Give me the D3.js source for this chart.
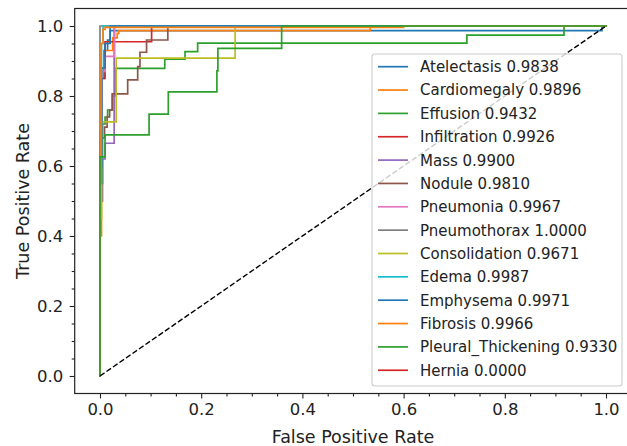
<!DOCTYPE html>
<html>
<head>
<meta charset="utf-8">
<script src="https://cdn.jsdelivr.net/npm/d3@7"></script>
<style>
  html, body { margin: 0; padding: 0; background: #fff; }
  svg { display: block; font-family: "DejaVu Sans", sans-serif; }
</style>
</head>
<body>
<svg id="chart" width="627" height="446"></svg>
<script>
// ---- DATA ----
const classNames = ["Atelectasis", "Cardiomegaly", "Effusion", "Infiltration", "Mass", "Nodule",
  "Pneumonia", "Pneumothorax", "Consolidation", "Edema", "Emphysema", "Fibrosis",
  "Pleural_Thickening", "Hernia"];
const aucValues = [0.9838, 0.9896, 0.9432, 0.9926, 0.9900, 0.9810, 0.9967, 1.0000,
  0.9671, 0.9987, 0.9971, 0.9966, 0.9330, 0.0000];

// ROC points as [false positive rate, true positive rate]
const atelectasisRoc = [[0,0],[0,0.5],[0.004,0.5],[0.004,0.85],[0.008,0.85],[0.008,0.93],[0.015,0.93],[0.015,0.96],[0.02,0.96],[0.02,0.987],[0.992,0.987],[0.992,1],[1,1]];
const cardiomegalyRoc = [[0,0],[0,0.4],[0.003,0.4],[0.003,0.88],[0.01,0.88],[0.01,0.93],[0.025,0.93],[0.025,0.966],[0.034,0.966],[0.034,0.979],[0.037,0.979],[0.037,0.987],[0.534,0.987],[0.534,1],[1,1]];
const effusionRoc = [[0,0],[0,0.55],[0.005,0.55],[0.005,0.72],[0.01,0.72],[0.01,0.74],[0.015,0.74],[0.015,0.76],[0.025,0.76],[0.025,0.8],[0.03,0.8],[0.03,0.879],[0.128,0.879],[0.128,0.905],[0.168,0.905],[0.168,0.927],[0.193,0.927],[0.193,0.951],[0.725,0.951],[0.725,0.974],[0.917,0.974],[0.917,1],[1,1]];
const infiltrationRoc = [[0,0],[0,0.5],[0.003,0.5],[0.003,0.85],[0.01,0.85],[0.01,0.955],[0.102,0.955],[0.102,1],[1,1]];
const massRoc = [[0,0],[0,0.5],[0.005,0.5],[0.005,0.62],[0.01,0.62],[0.01,0.665],[0.028,0.665],[0.028,1],[1,1]];
const noduleRoc = [[0,0],[0,0.55],[0.004,0.55],[0.004,0.68],[0.009,0.68],[0.009,0.711],[0.014,0.711],[0.014,0.74],[0.019,0.74],[0.019,0.76],[0.024,0.76],[0.024,0.806],[0.0547,0.806],[0.0547,0.846],[0.0745,0.846],[0.0745,0.884],[0.079,0.884],[0.079,0.925],[0.092,0.925],[0.092,0.96],[0.134,0.96],[0.134,1],[1,1]];
const pneumoniaRoc = [[0,0],[0,0.7],[0.003,0.7],[0.003,0.87],[0.01,0.87],[0.01,0.913],[0.029,0.913],[0.029,1],[1,1]];
const pneumothoraxRoc = [[0,0],[0,1],[1,1]];
const consolidationRoc = [[0,0],[0,0.45],[0.003,0.45],[0.003,0.726],[0.032,0.726],[0.032,0.908],[0.267,0.908],[0.267,1],[1,1]];
const edemaRoc = [[0,0],[0,0.55],[0.003,0.55],[0.003,0.95],[0.006,0.95],[0.006,1],[1,1]];
const emphysemaRoc = [[0,0],[0,0.6],[0.003,0.6],[0.003,0.88],[0.01,0.88],[0.01,0.95],[0.02,0.95],[0.02,1],[1,1]];
const fibrosisRoc = [[0,0],[0,0.6],[0.002,0.6],[0.002,0.95],[0.006,0.95],[0.006,0.99],[0.01,0.99],[0.01,0.996],[0.6,0.996],[0.6,1],[1,1]];
const pleuralThickeningRoc = [[0,0],[0,0.626],[0.01,0.626],[0.01,0.689],[0.097,0.689],[0.097,0.748],[0.135,0.748],[0.135,0.812],[0.231,0.812],[0.231,0.872],[0.233,0.872],[0.233,0.936],[0.359,0.936],[0.359,1],[1,1]];
const herniaRoc = []; // no positive cases: nothing drawn

const rocCurves = [atelectasisRoc, cardiomegalyRoc, effusionRoc, infiltrationRoc, massRoc, noduleRoc,
  pneumoniaRoc, pneumothoraxRoc, consolidationRoc, edemaRoc, emphysemaRoc, fibrosisRoc,
  pleuralThickeningRoc, herniaRoc];

const chanceLine = [[0,0],[1,1]];
const majorTicks = [0, 0.2, 0.4, 0.6, 0.8, 1.0];
const minorTicks = [0.05, 0.1, 0.15, 0.25, 0.3, 0.35, 0.45, 0.5, 0.55, 0.65, 0.7, 0.75, 0.85, 0.9, 0.95];

// ---- STYLE ----
const palette = ["#1f77b4", "#ff7f0e", "#2ca02c", "#d62728", "#9467bd", "#8c564b",
  "#e377c2", "#7f7f7f", "#bcbd22", "#17becf"];
const legendFont = 15;
const tickFont = 16.5;
const labelFont = 17.5;

// ---- LAYOUT ----
const svg = d3.select("#chart");
const pLeft = 74.7, pRight = 631.3, pTop = 8.5, pBottom = 393.5;
const x = d3.scaleLinear().domain([-0.05, 1.05]).range([pLeft, pRight]);
const y = d3.scaleLinear().domain([-0.05, 1.05]).range([pBottom, pTop]);

svg.append("defs").append("clipPath").attr("id", "clip")
  .append("rect").attr("x", pLeft).attr("y", pTop).attr("width", pRight - pLeft).attr("height", pBottom - pTop);

const plot = svg.append("g").attr("clip-path", "url(#clip)");
const line = d3.line().x(d => x(d[0])).y(d => y(d[1]));

rocCurves.forEach((pts, i) => {
  if (!pts.length) return;
  plot.append("path")
    .attr("d", line(pts))
    .attr("fill", "none")
    .attr("stroke", palette[i % palette.length])
    .attr("stroke-width", 1.7)
    .attr("stroke-linejoin", "miter")
    .attr("stroke-linecap", "square");
});

plot.append("path")
  .attr("d", line(chanceLine))
  .attr("fill", "none")
  .attr("stroke", "#000")
  .attr("stroke-width", 1.4)
  .attr("stroke-dasharray", "5.5,2.4");

// ---- AXES ----
const xAxis = svg.append("g").attr("transform", `translate(0,${pBottom})`)
  .call(d3.axisBottom(x).tickValues(majorTicks).tickFormat(d3.format(".1f")).tickSize(5).tickPadding(5).tickSizeOuter(0));
const xMinor = svg.append("g").attr("transform", `translate(0,${pBottom})`)
  .call(d3.axisBottom(x).tickValues(minorTicks).tickFormat("").tickSize(3).tickSizeOuter(0));
const yAxis = svg.append("g").attr("transform", `translate(${pLeft},0)`)
  .call(d3.axisLeft(y).tickValues(majorTicks).tickFormat(d3.format(".1f")).tickSize(5).tickPadding(6.5).tickSizeOuter(0));
const yMinor = svg.append("g").attr("transform", `translate(${pLeft},0)`)
  .call(d3.axisLeft(y).tickValues(minorTicks).tickFormat("").tickSize(3).tickSizeOuter(0));

[xAxis, xMinor, yAxis, yMinor].forEach(g => {
  g.select(".domain").remove();
  g.selectAll(".tick line").attr("stroke", "#222").attr("stroke-width", 1.1);
  g.selectAll(".tick text").attr("fill", "#222").style("font-size", tickFont + "px")
    .style("font-family", "DejaVu Sans, sans-serif");
});

// frame (spines)
svg.append("rect")
  .attr("x", pLeft).attr("y", pTop).attr("width", pRight - pLeft).attr("height", pBottom - pTop)
  .attr("fill", "none").attr("stroke", "#222").attr("stroke-width", 1.2);

// axis labels
svg.append("text").attr("x", (pLeft + pRight) / 2).attr("y", 443)
  .attr("text-anchor", "middle").attr("fill", "#222").style("font-size", labelFont + "px")
  .text("False Positive Rate");
svg.append("text").attr("transform", `translate(28.5,${(pTop + pBottom) / 2}) rotate(-90)`)
  .attr("text-anchor", "middle").attr("fill", "#222").style("font-size", labelFont + "px")
  .text("True Positive Rate");

// ---- LEGEND ----
const legend = svg.append("g");
const lgX = 372, lgY = 54, lgW = 250, lgH = 332;
legend.append("rect").attr("x", lgX).attr("y", lgY).attr("width", lgW).attr("height", lgH)
  .attr("rx", 3).attr("fill", "#fff").attr("fill-opacity", 0.8)
  .attr("stroke", "#cccccc").attr("stroke-width", 1.1);
const rowH = 23.35, row0 = 66.7;
classNames.forEach((name, i) => {
  const cy = row0 + i * rowH;
  legend.append("line").attr("x1", 378).attr("x2", 408).attr("y1", cy).attr("y2", cy)
    .attr("stroke", palette[i % palette.length]).attr("stroke-width", 1.7);
  legend.append("text").attr("x", 420).attr("y", cy).attr("dy", "0.36em")
    .attr("fill", "#222").style("font-size", legendFont + "px")
    .text(name + " " + d3.format(".4f")(aucValues[i]));
});
</script>
</body>
</html>
